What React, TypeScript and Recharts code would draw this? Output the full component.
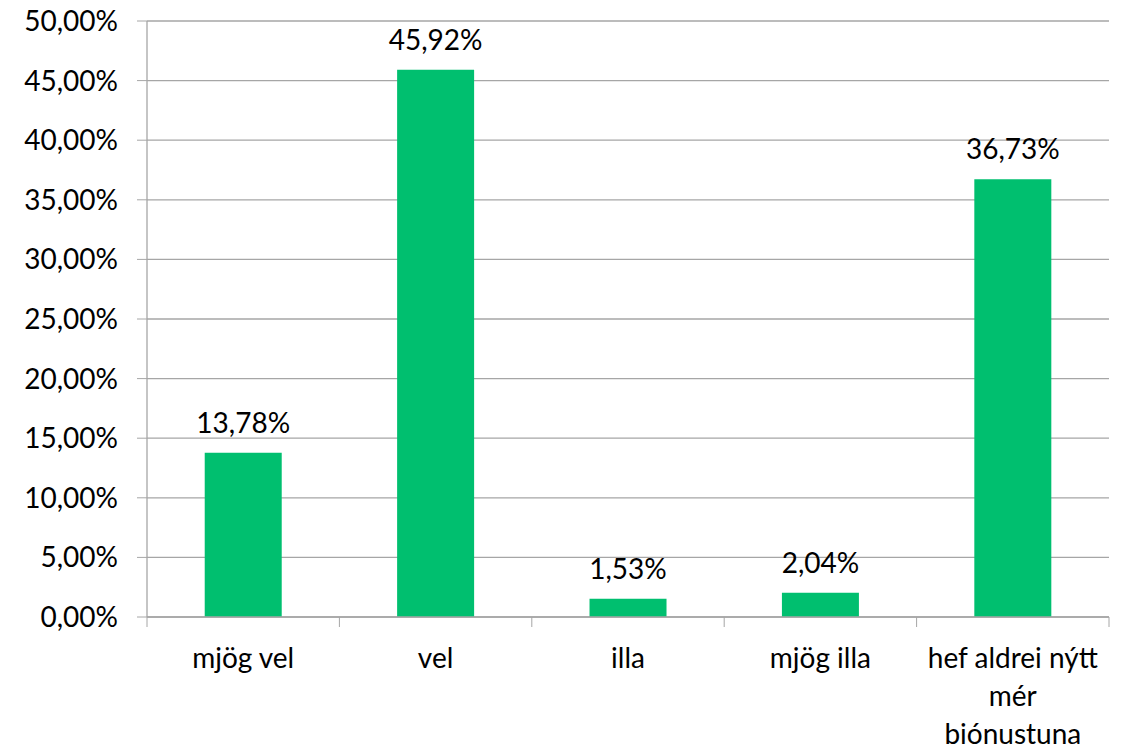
import { Bar, BarChart, CartesianGrid, LabelList, XAxis, YAxis } from "recharts";

const categories = ["mjög vel", "vel", "illa", "mjög illa", "hef aldrei nýtt mér þjónustuna"];
// how the category labels wrap under the axis
const categoryLines = [["mjög vel"], ["vel"], ["illa"], ["mjög illa"], ["hef aldrei nýtt", "mér", "þjónustuna"]];
const shares = [13.78, 45.92, 1.53, 2.04, 36.73];
const yTicks = [0, 5, 10, 15, 20, 25, 30, 35, 40, 45, 50];

const data = categories.map((name, i) => ({ name, share: shares[i] }));

const FONT = "Lato, 'Open Sans', sans-serif";
const pct = (v: number) => `${v.toFixed(2).replace(".", ",")}%`;

const BAND = (1132 - 147 - 23) / categories.length;

function CategoryTick(props: any) {
  const { x, y, index } = props;
  const left = x - BAND / 2;
  const lines = categoryLines[index] ?? [];
  return (
    <g>
      <line x1={left} x2={left} y1={y - 8} y2={y + 2} stroke="#A6A6A6" />
      {index === categories.length - 1 && (
        <line x1={left + BAND} x2={left + BAND} y1={y - 8} y2={y + 2} stroke="#A6A6A6" />
      )}
      <text x={x} y={y + 43} textAnchor="middle" fontSize={28} fontFamily={FONT} fill="#000">
        {lines.map((line, i) => (
          <tspan key={line} x={x} dy={i === 0 ? 0 : 38}>
            {line}
          </tspan>
        ))}
      </text>
    </g>
  );
}

export default function App() {
  return (
    <div style={{ margin: -8, background: "#fff" }}>
      <BarChart
        width={1132}
        height={752}
        data={data}
        margin={{ top: 21, right: 23, bottom: 0, left: 0 }}
        barCategoryGap="30%"
      >
        <CartesianGrid vertical={false} stroke="#A6A6A6" strokeWidth={1.3} />
        <XAxis
          dataKey="name"
          height={135}
          axisLine={{ stroke: "#A6A6A6", strokeWidth: 1.3 }}
          tickLine={false}
          tick={<CategoryTick />}
          interval={0}
        />
        <YAxis
          width={147}
          domain={[0, 50]}
          ticks={yTicks}
          tickFormatter={pct}
          axisLine={{ stroke: "#A6A6A6", strokeWidth: 1.3 }}
          tickLine={{ stroke: "#A6A6A6" }}
          tickSize={10}
          tickMargin={19}
          tick={{ fontSize: 28, fontFamily: FONT, fill: "#000" }}
        />
        <Bar dataKey="share" fill="#00BF6F" isAnimationActive={false}>
          <LabelList
            dataKey="share"
            position="top"
            offset={20}
            formatter={(v: any) => pct(Number(v))}
            style={{ fontSize: 28, fontFamily: FONT, fill: "#000" }}
          />
        </Bar>
      </BarChart>
    </div>
  );
}
